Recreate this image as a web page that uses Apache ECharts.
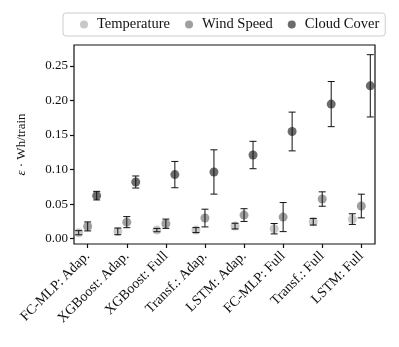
<!DOCTYPE html>
<html>
<head>
<meta charset="utf-8">
<script src="https://cdn.jsdelivr.net/npm/echarts@6/dist/echarts.min.js"></script>
<style>
  html, body { margin: 0; padding: 0; background: #fff; }
  #chart { width: 399px; height: 347px; }
</style>
</head>
<body>
<div id="chart"></div>
<script>
// 模型类别
var models = ["FC-MLP: Adap.", "XGBoost: Adap.", "XGBoost: Full", "Transf.: Adap.",
  "LSTM: Adap.", "FC-MLP: Full", "Transf.: Full", "LSTM: Full"];
var seriesNames = ["Temperature", "Wind Speed", "Cloud Cover"];
// 均值
var tempMean = [0.0087, 0.0106, 0.0125, 0.0125, 0.0183, 0.0145, 0.0246, 0.0284];
var windMean = [0.0178, 0.0240, 0.0217, 0.0299, 0.0342, 0.0313, 0.0574, 0.0473];
var cloudMean = [0.0623, 0.0820, 0.0927, 0.0965, 0.1210, 0.1550, 0.1946, 0.2210];
// 误差
var tempErr = [0.0030, 0.0048, 0.0024, 0.0036, 0.0041, 0.0075, 0.0048, 0.0077];
var windErr = [0.0065, 0.0080, 0.0067, 0.0128, 0.0092, 0.0210, 0.0104, 0.0171];
var cloudErr = [0.0062, 0.0087, 0.0190, 0.0320, 0.0198, 0.0280, 0.0326, 0.0450];
var yTicks = [0, 0.05, 0.10, 0.15, 0.20, 0.25];

var font = "Liberation Serif";
var colors = ["rgba(175,175,175,0.85)", "rgba(115,115,115,0.85)", "rgba(40,40,40,0.85)"];
var means = [tempMean, windMean, cloudMean];
var errs = [tempErr, windErr, cloudErr];
var shift = [-0.23, 0, 0.23];

var myChart = echarts.init(document.getElementById("chart"));

var series = [];
seriesNames.forEach(function (name, k) {
  series.push({
    name: name,
    type: "scatter",
    symbol: "circle",
    symbolSize: 9,
    itemStyle: { color: colors[k] },
    z: 2,
    data: means[k].map(function (v, i) { return [i + shift[k], v]; })
  });
  // 误差线
  series.push({
    type: "custom",
    z: 3,
    silent: true,
    data: means[k].map(function (v, i) { return [i + shift[k], v - errs[k][i], v + errs[k][i]]; }),
    renderItem: function (params, api) {
      var lo = api.coord([api.value(0), api.value(1)]);
      var hi = api.coord([api.value(0), api.value(2)]);
      var w = 3.5;
      var st = { stroke: "#111", lineWidth: 1 };
      return {
        type: "group",
        children: [
          { type: "line", shape: { x1: lo[0], y1: lo[1], x2: hi[0], y2: hi[1] }, style: st },
          { type: "line", shape: { x1: lo[0] - w, y1: lo[1], x2: lo[0] + w, y2: lo[1] }, style: st },
          { type: "line", shape: { x1: hi[0] - w, y1: hi[1], x2: hi[0] + w, y2: hi[1] }, style: st }
        ]
      };
    }
  });
});

var option = {
  animation: false,
  textStyle: { fontFamily: font },
  legend: {
    data: seriesNames.map(function (n, k) { return { name: n, itemStyle: { color: colors[k] } }; }),
    top: 13,
    left: 63,
    icon: "circle",
    itemWidth: 8,
    itemHeight: 8,
    itemGap: 15,
    padding: [4, 6, 4, 17],
    borderColor: "#ccc",
    borderWidth: 1,
    borderRadius: 3,
    textStyle: { fontFamily: font, fontSize: 14.5, color: "#111", padding: [0, 0, 0, 4] }
  },
  grid: {
    left: 74, right: 24, top: 45, bottom: 103,
    outerBoundsMode: "none",
    containLabel: false,
    show: true, borderColor: "#111", borderWidth: 1.2, backgroundColor: "transparent"
  },
  xAxis: {
    type: "value",
    min: -0.35,
    max: 7.35,
    splitLine: { show: false },
    axisLine: { show: false, onZero: false },
    axisTick: { show: true, length: 4, customValues: [0, 1, 2, 3, 4, 5, 6, 7], lineStyle: { color: "#111", width: 1.2 } },
    axisLabel: {
      customValues: [0, 1, 2, 3, 4, 5, 6, 7],
      rotate: 45,
      margin: 10,
      fontFamily: font,
      fontSize: 14,
      color: "#111",
      formatter: function (v) { return models[Math.round(v)]; }
    }
  },
  yAxis: {
    type: "value",
    min: -0.0076,
    max: 0.28,
    name: "{e|ε} · Wh/train",
    nameLocation: "middle",
    nameGap: 46,
    nameTextStyle: {
      fontFamily: font, fontSize: 13, color: "#111",
      rich: { e: { fontStyle: "italic", fontFamily: font, fontSize: 13 } }
    },
    splitLine: { show: false },
    axisLine: { show: false, onZero: false },
    axisTick: { show: true, length: 4, customValues: yTicks, lineStyle: { color: "#111", width: 1.2 } },
    axisLabel: {
      customValues: yTicks,
      margin: 6,
      fontFamily: font,
      fontSize: 13,
      color: "#111",
      formatter: function (v) { return v.toFixed(2); }
    }
  },
  series: series
};

myChart.setOption(option);
</script>
</body>
</html>
